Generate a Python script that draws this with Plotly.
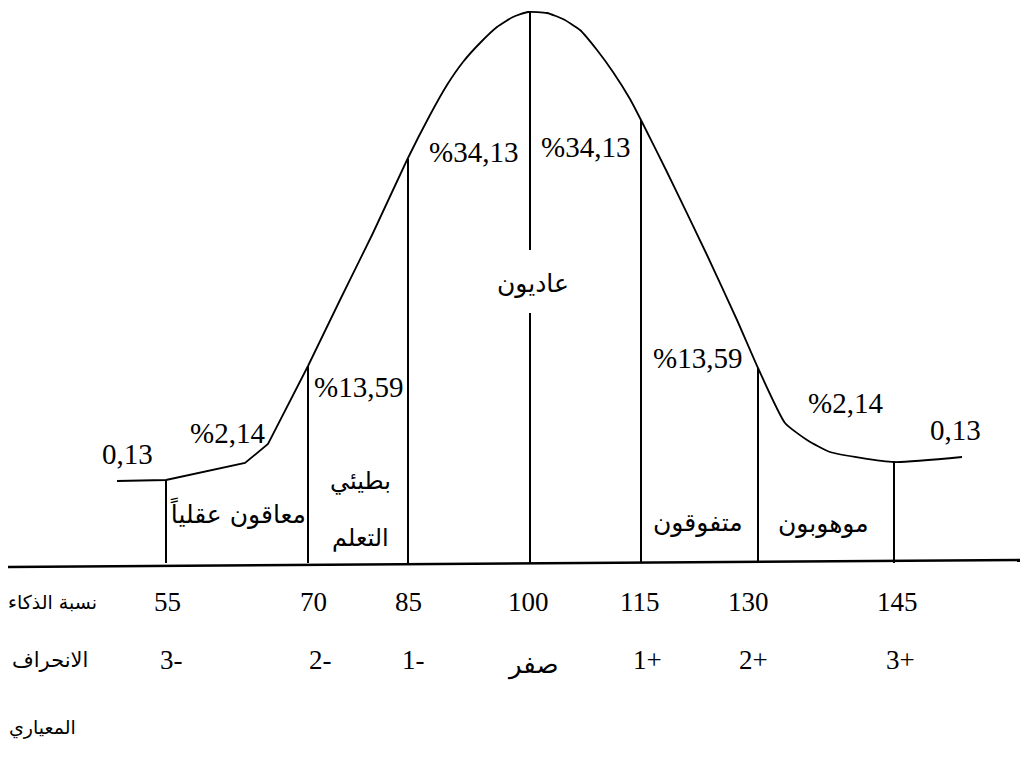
import numpy as np
import plotly.graph_objects as go

# Curve (x in drawing units, h = height above the baseline)
# left tail (hand drawn, with corners)
cauda_x = [117, 166, 245, 268, 308]
cauda_h = [84, 85, 102, 121, 199]
# main smooth part of the bell
sino_x = [308, 340, 373, 407, 430, 447, 463, 480, 497, 513, 528, 547, 563, 580,
          597, 613, 630, 642, 667, 707, 737, 758, 785, 807, 830, 894, 962]
sino_h = [199, 265, 332, 405, 450, 480, 503, 522, 538, 548, 553, 552, 546, 535,
          515, 493, 466, 443, 393, 310, 245, 197, 142, 125, 113, 103, 108]

# Vertical lines at each IQ mark
qi = [55, 70, 85, 100, 115, 130, 145]
desvio = ['3-', '2-', '1-', 'صفر', '1+', '2+', '3+']
linha_x = [166, 308, 408, 530, 641, 758, 894]
linha_topo = [85, 199, 406, 553, 445, 197, 103]

# Percentages of each region
percentuais = ['0,13', '%2,14', '%13,59', '%34,13', '%34,13', '%13,59', '%2,14', '0,13']
categorias = ['معاقون عقلياً', 'بطيئي التعلم', 'عاديون', 'متفوقون', 'موهوبون']

Figura = go.Figure()

# baseline
Figura.add_trace(go.Scatter(x=[8, 1020], y=[-2, 5], mode='lines',
                            line=dict(color='black', width=2.5), hoverinfo='skip'))

# bell curve
Figura.add_trace(go.Scatter(x=cauda_x, y=cauda_h, mode='lines',
                            line=dict(color='black', width=1.8), hoverinfo='skip'))
Figura.add_trace(go.Scatter(x=sino_x, y=sino_h, mode='lines',
                            line=dict(color='black', width=1.8, shape='spline', smoothing=0.5),
                            hoverinfo='skip'))

# verticals (the one at 100 is broken around the label)
vx, vy = [], []
for xx, topo in zip(linha_x, linha_topo):
    if xx == 530:
        vx += [xx, xx, None, xx, xx, None]
        vy += [topo, 315, None, 252, 2, None]
    else:
        vx += [xx, xx, None]
        vy += [topo, 2, None]
Figura.add_trace(go.Scatter(x=vx, y=vy, mode='lines',
                            line=dict(color='black', width=2), hoverinfo='skip'))

serif = 'Liberation Serif'
arabe = 'DejaVu Sans'

def texto(x, y, t, fonte, tam):
    Figura.add_annotation(x=x, y=y, text=t, showarrow=False, xanchor='center',
                          yanchor='middle', font=dict(family=fonte, size=tam, color='black'))

# percentages
pos_perc = [(127, 111), (227, 132), (358, 178), (473, 413), (585, 418),
            (697, 207), (845, 162), (955, 135)]
for (px_, py_), t in zip(pos_perc, percentuais):
    texto(px_, py_, t, serif, 29)

# categories (two-word label for the slow learners goes on two lines)
pos_cat = [(238, 52), (360, 55), (533, 282), (698, 43), (823, 42)]
for (px_, py_), t in zip(pos_cat, categorias):
    if t == 'بطيئي التعلم':
        p1, p2 = t.split(' ')
        texto(px_, py_ + 29, p1, arabe, 24)
        texto(px_, py_ - 28, p2, arabe, 24)
    else:
        texto(px_, py_, t, arabe, 25)

# IQ values and deviations below the baseline
x_qi = [167, 313, 408, 528, 640, 748, 897]
x_dev = [171, 320, 413, 533, 647, 753, 900]
for xx, v in zip(x_qi, qi):
    texto(xx, -37, str(v), serif, 27)
for xx, d in zip(x_dev, desvio):
    if d == 'صفر':
        texto(xx, -99, d, arabe, 26)
    else:
        texto(xx, -95, d, serif, 27)

texto(52, -37, 'نسبة الذكاء', arabe, 19)
texto(50, -95, 'الانحراف', arabe, 21)
texto(42, -162, 'المعياري', arabe, 19)

Figura.update_layout(
    width=1025, height=757,
    margin=dict(l=0, r=0, t=0, b=0),
    paper_bgcolor='white', plot_bgcolor='white',
    showlegend=False,
    xaxis=dict(range=[0, 1025], visible=False, fixedrange=True),
    yaxis=dict(range=[-192, 565], visible=False, fixedrange=True),
)

Figura.write_html('out.html', config={'displayModeBar': False},
                  post_script="document.body.style.margin='0px';")
